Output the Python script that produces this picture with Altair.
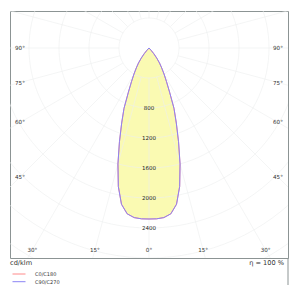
import altair as alt
import pandas as pd
import numpy as np

# ---- photometric data (cd/klm), gamma measured from nadir, symmetric planes
gammas = [0, 2.5, 5, 7.5, 10, 12.5, 15, 17.5, 20, 22.5, 25, 27.5, 30, 32.5, 35,
          37.5, 40, 42.5, 45, 50, 60, 70, 80, 90]
c0_c180 = [2280, 2280, 2270, 2230, 2115, 1890, 1600, 1310, 1065, 870, 650, 505,
           400, 315, 245, 170, 100, 40, 0, 0, 0, 0, 0, 0]
c90_c270 = [2280, 2280, 2270, 2230, 2115, 1890, 1600, 1310, 1065, 870, 650, 505,
            400, 315, 245, 170, 100, 40, 0, 0, 0, 0, 0, 0]
series_names = ["C0/C180", "C90/C270"]
series_colors = ["#ff8a8a", "#8c84f4"]

ring_values = [400, 800, 1200, 1600, 2000, 2400, 2800, 3200]
ring_labels = [800, 1200, 1600, 2000, 2400]
spoke_angles = list(range(0, 360, 15))
side_angle_labels = [90, 75, 60, 45]
bottom_angle_labels = [30, 15, 0]

X_MAX = 1853.3
Y_MIN, Y_MAX = -2800, 493.3
LABEL_X = 1720
LABEL_Y = -2693

xs = alt.Scale(domain=[-X_MAX, X_MAX], nice=False, zero=False)
ys = alt.Scale(domain=[Y_MIN, Y_MAX], nice=False, zero=False)

# ---- grid tables
rows = []
for r in ring_values:
    for i, a in enumerate(np.arange(0, 361, 3)):
        t = np.radians(a)
        rows.append({"id": f"r{r}", "o": i, "x": r * np.sin(t), "y": -r * np.cos(t)})
for a in spoke_angles:
    t = np.radians(a)
    for i, r in enumerate([ring_values[0], 3600]):
        rows.append({"id": f"s{a}", "o": i, "x": r * np.sin(t), "y": -r * np.cos(t)})
grid_df = pd.DataFrame(rows)

# ---- curve tables
g = np.radians(np.array(gammas, dtype=float))
curve_rows = []
for name, vals in zip(series_names, [c0_c180, c90_c270]):
    v = np.array(vals, dtype=float)
    k = 0
    for gi, vi in list(zip(g, v))[::-1]:
        curve_rows.append({"series": name, "o": k, "x": -vi * np.sin(gi), "y": -vi * np.cos(gi)})
        k += 1
    for gi, vi in zip(g, v):
        curve_rows.append({"series": name, "o": k, "x": vi * np.sin(gi), "y": -vi * np.cos(gi)})
        k += 1
curve_df = pd.DataFrame(curve_rows)

v0 = np.array(c0_c180, dtype=float)
mask = np.array(gammas) <= 45
fill_df = pd.DataFrame({
    "xl": -v0[mask] * np.sin(g[mask]),
    "xr": v0[mask] * np.sin(g[mask]),
    "y": -v0[mask] * np.cos(g[mask]),
})

# ---- label tables
lab_rows = []
for a in side_angle_labels:
    yy = 0 if a == 90 else -LABEL_X / np.tan(np.radians(a))
    for s in (-1, 1):
        lab_rows.append({"t": f"{a}°", "x": s * LABEL_X, "y": yy})
for a in bottom_angle_labels:
    xx = LABEL_Y * np.tan(np.radians(a))
    for s in ((-1, 1) if a else (1,)):
        lab_rows.append({"t": f"{a}°", "x": s * abs(xx), "y": LABEL_Y})
ang_df = pd.DataFrame(lab_rows)
ring_df = pd.DataFrame({"t": [str(v) for v in ring_labels], "x": 0, "y": [-v for v in ring_labels]})

FONT = "DejaVu Sans"

fill = alt.Chart(fill_df).mark_area(orient="horizontal", color="#fafab2", clip=True).encode(
    x=alt.X("xl:Q", scale=xs, axis=None),
    x2="xr:Q",
    y=alt.Y("y:Q", scale=ys, axis=None),
)

grid = alt.Chart(grid_df).mark_line(color="#eceeee", strokeWidth=0.6, clip=True).encode(
    x=alt.X("x:Q", scale=xs, axis=None),
    y=alt.Y("y:Q", scale=ys, axis=None),
    detail="id:N",
    order="o:Q",
)

curve = alt.Chart(curve_df).mark_line(strokeWidth=1, clip=True).encode(
    x=alt.X("x:Q", scale=xs, axis=None),
    y=alt.Y("y:Q", scale=ys, axis=None),
    color=alt.Color("series:N", scale=alt.Scale(domain=series_names, range=series_colors),
                    legend=alt.Legend(title=None, orient="none", legendX=2, legendY=259.5,
                                      symbolType="stroke", symbolSize=169, symbolStrokeWidth=1,
                                      labelFontSize=5, labelFont=FONT, labelColor="#333333",
                                      labelOffset=9, rowPadding=0.7, clipHeight=7, padding=0)),
    order="o:Q",
)

ang_text = alt.Chart(ang_df).mark_text(fontSize=5.6, font=FONT, color="#333333").encode(
    x=alt.X("x:Q", scale=xs, axis=None),
    y=alt.Y("y:Q", scale=ys, axis=None),
    text="t:N",
)
ring_text = alt.Chart(ring_df).mark_text(fontSize=5.5, font=FONT, color="#222222").encode(
    x=alt.X("x:Q", scale=xs, axis=None),
    y=alt.Y("y:Q", scale=ys, axis=None),
    text="t:N",
)

unit_text = alt.Chart(pd.DataFrame({"t": ["cd/klm"]})).mark_text(
    fontSize=6.6, font=FONT, color="#333333", align="left", baseline="middle"
).encode(x=alt.value(0), y=alt.value(252), text="t:N")
eta_text = alt.Chart(pd.DataFrame({"t": ["η = 100 %"]})).mark_text(
    fontSize=6.6, font=FONT, color="#333333", align="right", baseline="middle"
).encode(x=alt.value(274), y=alt.value(252), text="t:N")
edge = alt.Chart(pd.DataFrame({"a": [0]})).mark_rule(color="#8c9494", strokeWidth=1).encode(
    x=alt.value(278), y=alt.value(247), y2=alt.value(274)
)

chart = alt.layer(fill, grid, curve, ang_text, ring_text, unit_text, eta_text, edge).properties(
    width=278, height=247,
    autosize=alt.AutoSizeParams(type="none"),
    padding={"left": 10, "top": 11, "right": 12, "bottom": 40},
    background="white",
).configure_view(stroke="#8c9494", strokeWidth=1)

chart.save("out.html", embed_options={"renderer": "svg", "actions": False})
